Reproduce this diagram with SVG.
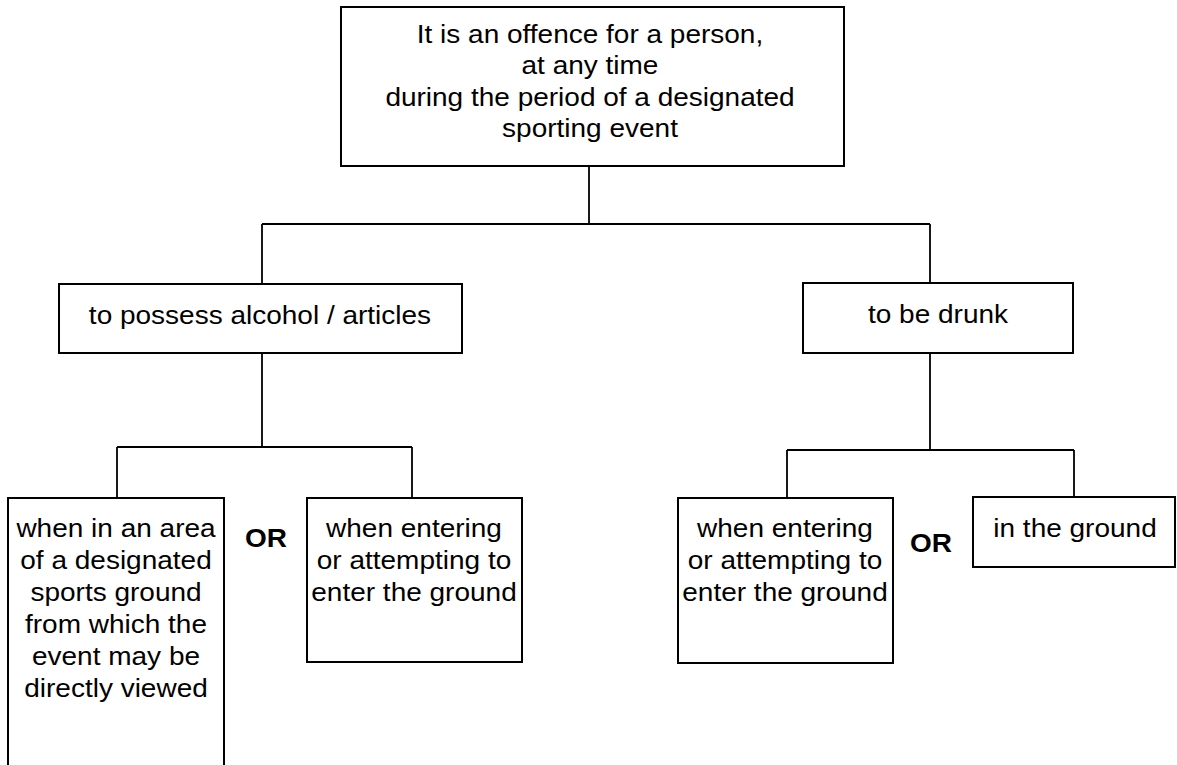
<svg xmlns="http://www.w3.org/2000/svg" width="1177" height="765" viewBox="0 0 1177 765">
<style>
.box{fill:#fff;stroke:#000;stroke-width:2}
.ln{fill:none;stroke:#000;stroke-width:1.8}
.t{font-family:"Liberation Sans",Arial,sans-serif;font-size:25px;fill:#000;text-anchor:middle}
.b{font-weight:bold}
</style>
<rect width="1177" height="765" fill="#fff"/>
<g id="connectors">
<path class="ln" d="M589 166V224M262 224H930M262 224V284M930 224V283"/>
<path class="ln" d="M262 353V447M117 447H412M117 447V498M412 447V498"/>
<path class="ln" d="M930 353V450M787 450H1074M787 450V498M1074 450V497"/>
</g>
<g id="top">
<rect class="box" x="341" y="7" width="503" height="159"/>
<g transform="translate(590,0) scale(1.12,1)">
<text class="t" x="0" y="43">It is an offence for a person,</text>
<text class="t" x="0" y="74">at any time</text>
<text class="t" x="0" y="106">during the period of a designated</text>
<text class="t" x="0" y="137">sporting event</text>
</g>
</g>
<g id="possess">
<rect class="box" x="59" y="284" width="403" height="69"/>
<g transform="translate(260,0) scale(1.12,1)"><text class="t" x="0" y="324">to possess alcohol / articles</text></g>
</g>
<g id="drunk">
<rect class="box" x="803" y="283" width="270" height="70"/>
<g transform="translate(938,0) scale(1.12,1)"><text class="t" x="0" y="323">to be drunk</text></g>
</g>
<g id="area">
<rect class="box" x="8" y="498" width="216" height="280"/>
<g transform="translate(116,0) scale(1.12,1)">
<text class="t" x="0" y="537">when in an area</text>
<text class="t" x="0" y="569">of a designated</text>
<text class="t" x="0" y="601">sports ground</text>
<text class="t" x="0" y="633">from which the</text>
<text class="t" x="0" y="665">event may be</text>
<text class="t" x="0" y="697">directly viewed</text>
</g>
</g>
<g id="or1">
<g transform="translate(266,0) scale(1.12,1)"><text class="t b" x="0" y="547">OR</text></g>
</g>
<g id="entering1">
<rect class="box" x="307" y="498" width="215" height="164"/>
<g transform="translate(414,0) scale(1.12,1)">
<text class="t" x="0" y="537">when entering</text>
<text class="t" x="0" y="569">or attempting to</text>
<text class="t" x="0" y="601">enter the ground</text>
</g>
</g>
<g id="entering2">
<rect class="box" x="678" y="498" width="215" height="165"/>
<g transform="translate(785,0) scale(1.12,1)">
<text class="t" x="0" y="537">when entering</text>
<text class="t" x="0" y="569">or attempting to</text>
<text class="t" x="0" y="601">enter the ground</text>
</g>
</g>
<g id="or2">
<g transform="translate(931,0) scale(1.12,1)"><text class="t b" x="0" y="552">OR</text></g>
</g>
<g id="inground">
<rect class="box" x="973" y="497" width="202" height="70"/>
<g transform="translate(1075,0) scale(1.12,1)"><text class="t" x="0" y="537">in the ground</text></g>
</g>
</svg>
